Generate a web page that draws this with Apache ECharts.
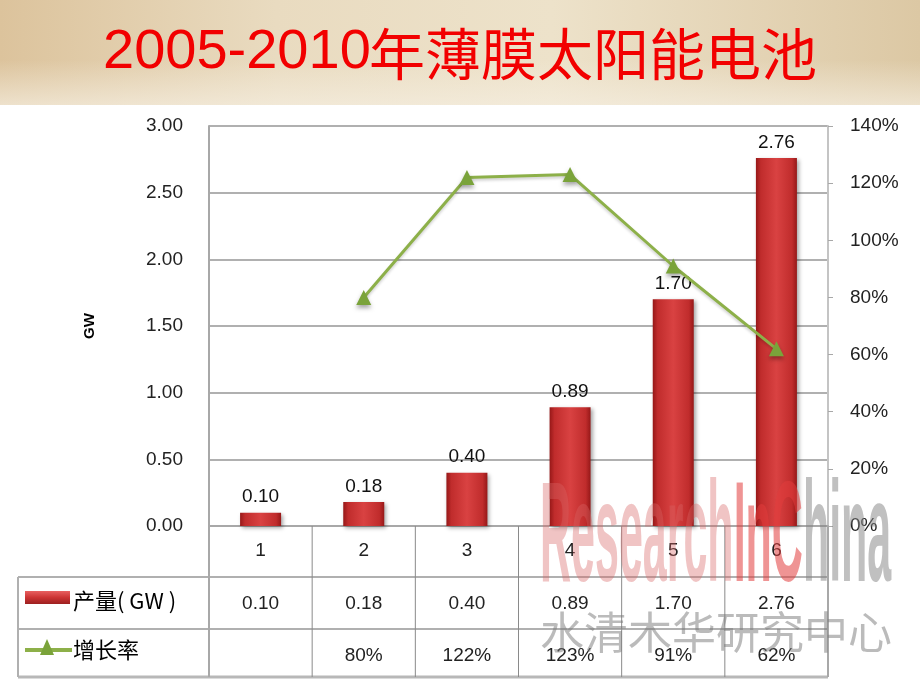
<!DOCTYPE html>
<html>
<head>
<meta charset="utf-8">
<script src="https://cdn.jsdelivr.net/npm/echarts@6/dist/echarts.min.js"></script>
<style>
html,body{margin:0;padding:0;background:#fff;}
#main{width:920px;height:690px;}
</style>
</head>
<body>
<div id="main"></div>
<script>
const categories = ['1', '2', '3', '4', '5', '6'];
const output = [0.10, 0.18, 0.40, 0.89, 1.70, 2.76];
const growth = [null, 80, 122, 123, 91, 62];
const titleNum = '2005-2010';
const titleCjk = '年薄膜太阳能电池';
const seriesNames = ['产量( GW )', '增长率'];

const chart = echarts.init(document.getElementById('main'));
const LAT = '"Liberation Sans", Arial, sans-serif';
const CJK = '"Noto Sans CJK SC", sans-serif';

const barColor = new echarts.graphic.LinearGradient(0, 0, 1, 0, [
  {offset: 0, color: '#961818'},
  {offset: 0.12, color: '#c02c2c'},
  {offset: 0.5, color: '#d94242'},
  {offset: 0.88, color: '#c02c2c'},
  {offset: 1, color: '#961818'}
]);

chart.setOption({
  animation: false,
  grid: {left: 209, right: 92, top: 126, bottom: 164},
  xAxis: {
    type: 'category',
    data: categories,
    axisLine: {show: true, lineStyle: {color: '#a8a8a8', width: 2}},
    axisTick: {show: false},
    axisLabel: {color: '#222', fontSize: 19, fontFamily: LAT, margin: 15},
    splitLine: {show: false}
  },
  yAxis: [{
    type: 'value', min: 0, max: 3, interval: 0.5,
    name: 'GW', nameLocation: 'middle', nameGap: 112, nameRotate: 90,
    nameTextStyle: {color: '#000', fontWeight: 'bold', fontSize: 15, fontFamily: LAT},
    axisLine: {show: true, lineStyle: {color: '#a8a8a8', width: 2}},
    axisTick: {show: false},
    axisLabel: {color: '#222', fontSize: 19, fontFamily: LAT, margin: 26,
      formatter: v => v.toFixed(2)},
    splitLine: {show: true, lineStyle: {color: '#b0b0b0', width: 2}}
  }, {
    type: 'value', min: 0, max: 140, interval: 20, position: 'right',
    axisLine: {show: true, lineStyle: {color: '#c4c4c4', width: 2}},
    axisTick: {show: true, length: 5, lineStyle: {color: '#a8a8a8'}},
    axisLabel: {color: '#222', fontSize: 19, fontFamily: LAT, margin: 22,
      formatter: '{value}%'},
    splitLine: {show: false}
  }],
  series: [{
    name: seriesNames[0], type: 'bar', data: output, barWidth: 41,
    itemStyle: {color: barColor, shadowColor: 'rgba(0,0,0,0.35)', shadowBlur: 4,
      shadowOffsetX: 2, shadowOffsetY: 2},
    label: {show: true, position: 'top', distance: 6, color: '#111', fontSize: 19,
      fontFamily: LAT, formatter: p => p.value.toFixed(2)}
  }, {
    name: seriesNames[1], type: 'line', yAxisIndex: 1, data: growth,
    symbol: 'triangle', symbolSize: 15,
    lineStyle: {color: '#8db049', width: 3, shadowColor: 'rgba(0,0,0,0.2)', shadowBlur: 3, shadowOffsetY: 2},
    itemStyle: {color: '#7aa33a', shadowColor: 'rgba(0,0,0,0.35)', shadowBlur: 4, shadowOffsetY: 3},
    z: 5
  }]
});

// Build background, title, data table and watermark
const px = i => chart.convertToPixel({xAxisIndex: 0}, i);
const c0 = px(0), c1 = px(1);
const band = c1 - c0;
const left = c0 - band / 2;
const right = px(categories.length - 1) + band / 2;
const axisY = chart.convertToPixel({yAxisIndex: 0}, 0);
const rowTop = 577, rowMid = 629, rowBot = 677, tableLeft = 18;
const lineC = '#b0b0b0';
const g = [];

g.push({type: 'rect', z: -10, silent: true, shape: {x: 0, y: 0, width: 920, height: 105},
  style: {fill: new echarts.graphic.LinearGradient(0, 0, 1, 0, [
    {offset: 0, color: '#dcc39c'}, {offset: 0.3, color: '#e9dbc0'},
    {offset: 0.6, color: '#ede2ca'}, {offset: 1, color: '#dcc8a4'}])}});
g.push({type: 'rect', z: -9, silent: true, shape: {x: 0, y: 60, width: 920, height: 45},
  style: {fill: new echarts.graphic.LinearGradient(0, 0, 0, 1, [
    {offset: 0, color: 'rgba(245,238,224,0)'}, {offset: 1, color: 'rgba(245,238,224,0.7)'}])}});

g.push({type: 'text', z: 10, style: {text: titleNum, x: 103, y: 53, verticalAlign: 'middle',
  fill: '#f20000', font: '56px ' + LAT}});
g.push({type: 'text', z: 10, style: {text: titleCjk, x: 369, y: 54, verticalAlign: 'middle',
  fill: '#f20000', font: '56px ' + CJK}});

// table lines
const hl = (x1, y, x2, c, w) => g.push({type: 'line', z: 20, silent: true,
  shape: {x1: x1, y1: y, x2: x2, y2: y}, style: {stroke: c || lineC, lineWidth: w || 2}});
const vl = (x, y1, y2, c, w) => g.push({type: 'line', z: 20, silent: true,
  shape: {x1: x, y1: y1, x2: x, y2: y2}, style: {stroke: c || lineC, lineWidth: w || 2}});
hl(tableLeft, rowTop, right);
hl(tableLeft, rowMid, right);
hl(tableLeft, rowBot, right, '#b8b8b8', 3);
vl(tableLeft, rowTop, rowBot);
vl(left, axisY, rowBot, '#a8a8a8', 2);
vl(right, axisY, rowBot, '#a8a8a8', 2);
for (let i = 1; i < categories.length; i++) {
  vl(left + band * i, axisY, rowBot, '#8a8a8a', 1);
}

// table values
for (let i = 0; i < categories.length; i++) {
  const cx = px(i);
  g.push({type: 'text', z: 30, style: {text: output[i].toFixed(2), x: cx, y: 604,
    align: 'center', verticalAlign: 'middle', fill: '#222', font: '19px ' + LAT}});
  g.push({type: 'text', z: 30, style: {text: growth[i] == null ? '' : growth[i] + '%', x: cx, y: 656,
    align: 'center', verticalAlign: 'middle', fill: '#222', font: '19px ' + LAT}});
}

// legend keys
g.push({type: 'rect', z: 30, shape: {x: 25, y: 591, width: 45, height: 13},
  style: {fill: new echarts.graphic.LinearGradient(0, 0, 0, 1, [
    {offset: 0, color: '#e86060'}, {offset: 0.5, color: '#cc3434'}, {offset: 1, color: '#9c2020'}])}});
g.push({type: 'text', z: 30, style: {text: seriesNames[0], x: 73, y: 601, verticalAlign: 'middle',
  fill: '#000', font: '22px ' + CJK}});
g.push({type: 'line', z: 30, shape: {x1: 25, y1: 650, x2: 72, y2: 650},
  style: {stroke: '#8db049', lineWidth: 4}});
g.push({type: 'polygon', z: 31, shape: {points: [[47, 639], [40, 655], [54, 655]]},
  style: {fill: '#7aa33a'}});
g.push({type: 'text', z: 30, style: {text: seriesNames[1], x: 73, y: 650, verticalAlign: 'middle',
  fill: '#000', font: '22px ' + CJK}});

// watermark
const wmFont = 'bold 50px ' + LAT;
g.push({type: 'text', z: 50, silent: true, x: 540, y: 613, scaleX: 0.86, scaleY: 2.85,
  style: {text: '{a|Research}{b|InC}{c|hina}', verticalAlign: 'bottom', font: wmFont,
    rich: {
      a: {fill: 'rgba(215,100,100,0.38)', font: wmFont},
      b: {fill: 'rgba(225,60,60,0.55)', font: wmFont},
      c: {fill: 'rgba(130,130,130,0.5)', font: wmFont}
    }}});
g.push({type: 'text', z: 50, silent: true,
  style: {text: '水清木华研究中心', x: 540, y: 632, verticalAlign: 'middle',
    fill: 'rgba(120,120,120,0.5)', font: '44px ' + CJK}});

chart.setOption({graphic: g});
</script>
</body>
</html>
